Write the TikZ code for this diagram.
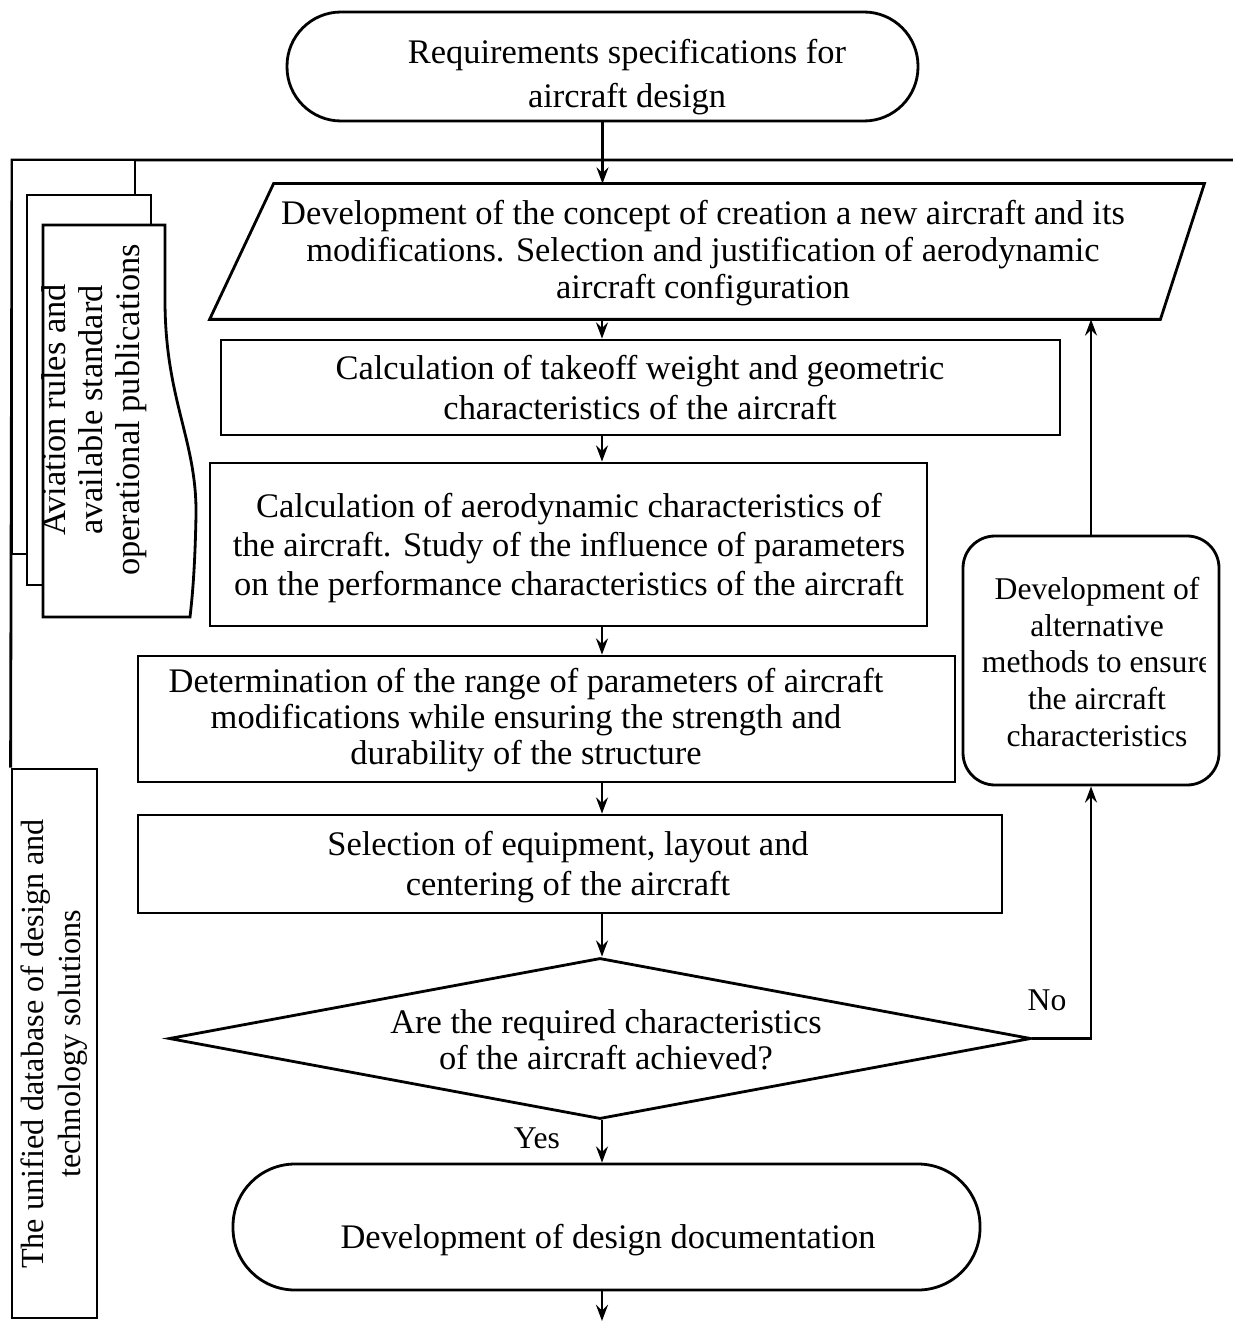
\documentclass[tikz,border=0pt]{standalone}
\usepackage{fontspec}
\setmainfont{Liberation Serif}
\usetikzlibrary{arrows.meta,shapes.geometric,calc}

% one drawing unit is 0.025cm
\newlength{\unitpx}
\setlength{\unitpx}{0.025cm}

\tikzset{
  block/.style={draw, rectangle, inner sep=0pt},
  ghost/.style={rectangle, inner sep=0pt},
  decision/.style={draw, diamond, inner sep=0pt},
  txt/.style={inner sep=0pt, align=center},
  flow/.style={-{Stealth[length=11.5pt,width=8.5pt,inset=4pt]}},
  page/.style={draw, fill=white},
}
\newcommand{\bigtext}{\fontsize{24.5}{27.5}\selectfont}
\newcommand{\smalltext}{\fontsize{22.5}{26.3}\selectfont}

\begin{document}
\begin{tikzpicture}[x=0.025cm, y=-0.025cm, line width=2pt, line join=miter]
\useasboundingbox (0,0) rectangle (1233,1325);

% main column axis
\coordinate (ax) at (602,0);

% ---------- shapes ----------
\node[block, minimum width=631\unitpx, minimum height=109\unitpx, rounded corners=1.35cm] (req) at (602.5,66.5) {};
\node[ghost, minimum width=992\unitpx, minimum height=133\unitpx] (concept) at (707,251.5) {};
\draw ($(concept.north west)+(64,0)$) -- (concept.north east)
      -- ($(concept.south east)+(-44,0)$) -- (concept.south west) -- cycle;
\node[block, minimum width=839\unitpx, minimum height=95\unitpx]  (calc1) at (640.5,387.5) {};
\node[block, minimum width=717\unitpx, minimum height=163\unitpx] (calc2) at (568.5,544.5) {};
\node[block, minimum width=817\unitpx, minimum height=126\unitpx] (det)   at (546.5,719) {};
\node[block, minimum width=864\unitpx, minimum height=98\unitpx]  (sel)   at (570,864) {};
\node[decision, minimum width=862\unitpx, minimum height=161\unitpx] (decide) at (600,1038.5) {};
\node[block, minimum width=747\unitpx, minimum height=126\unitpx, rounded corners=1.55cm] (doc) at (606.5,1227) {};
\node[block, minimum width=256\unitpx, minimum height=249\unitpx, rounded corners=0.8cm] (alt) at (1091,660.5) {};
\node[block, minimum width=85\unitpx, minimum height=549\unitpx] (db) at (54.5,1043.5) {};

% ---------- bus line on the left and top ----------
\coordinate (busend) at (1233,160);
\draw (busend) -- (12,160) -- (db.north west);

% ---------- stack of regulation documents ----------
\draw[page] (12,160) rectangle (135,554);
\draw[page] (27,195) rectangle (151,585);
\draw[page] (43,225) -- (165,225) -- (165,300)
      .. controls (165,400) and (197,440) .. (196,515)
      .. controls (195,570) and (192,600) .. (190,617)
      -- (43,617) -- cycle;

% ---------- texts ----------
\node[txt, font=\fontsize{24.5}{31}\selectfont] (reqT) at (627,77) {Requirements specifications for\\aircraft design};
\node[txt, font=\fontsize{24.5}{26.5}\selectfont] (conceptT) at (703,253) {Development of the concept of creation a new aircraft and its\\modifications. Selection and justification of aerodynamic\\aircraft configuration};
\node[txt, font=\fontsize{24.5}{28.5}\selectfont] (calc1T) at (640,388) {Calculation of takeoff weight and geometric\\characteristics of the aircraft};
\node[txt, font=\fontsize{24.5}{28}\selectfont] (calc2T) at (569,548) {Calculation of aerodynamic characteristics of\\the aircraft. Study of the influence of parameters\\on the performance characteristics of the aircraft};
\node[txt, font=\fontsize{24.5}{25.5}\selectfont] (detT) at (526,720) {Determination of the range of parameters of aircraft\\modifications while ensuring the strength and\\durability of the structure};
\node[txt, font=\fontsize{24.5}{29}\selectfont] (selT) at (568,867) {Selection of equipment, layout and\\centering of the aircraft};
\node[txt, font=\fontsize{24.5}{25.5}\selectfont] (decideT) at (606,1040) {Are the required characteristics\\of the aircraft achieved?};
\node[txt, font=\bigtext] (docT) at (608,1240) {Development of design documentation};
\begin{scope}
  % the text frame of this block is narrower than its outline
  \clip (963,536) rectangle (1205,785);
  \node[txt, font=\smalltext] (altT) at (1097,662) {Development of\\alternative\\methods to ensure\\the aircraft\\characteristics};
\end{scope}
\node[txt, font=\fontsize{24.5}{26.5}\selectfont, rotate=90] (avT) at (94,410) {Aviation rules and\\available standard\\operational publications};
\node[txt, font=\fontsize{22.9}{26}\selectfont, rotate=90] (dbT) at (54,1044) {The unified database of design and\\technology solutions};

% ---------- connectors ----------
\draw[flow] (req.south) -- (req.south |- concept.north);
\draw[flow] (ax |- concept.south) -- (ax |- calc1.north);
\draw[flow] (ax |- calc1.south) -- (ax |- calc2.north);
\draw[flow] (ax |- calc2.south) -- (ax |- det.north);
\draw[flow] (ax |- det.south) -- (ax |- sel.north);
\draw[flow] (ax |- sel.south) -- (ax |- decide.north);
\draw[flow] (decide.east) -| (alt.south);
\draw[flow] (alt.north) -- (alt.north |- concept.south);
\draw[flow] (ax |- decide.south) -- (ax |- doc.north);
\coordinate (out) at (602,1321);
\draw[flow] (ax |- doc.south) -- (out);

\node[txt, font=\smalltext] (noT) at (1047,1000) {No};
\node[txt, font=\smalltext] (yesT) at (537,1138) {Yes};
\end{tikzpicture}
\end{document}
